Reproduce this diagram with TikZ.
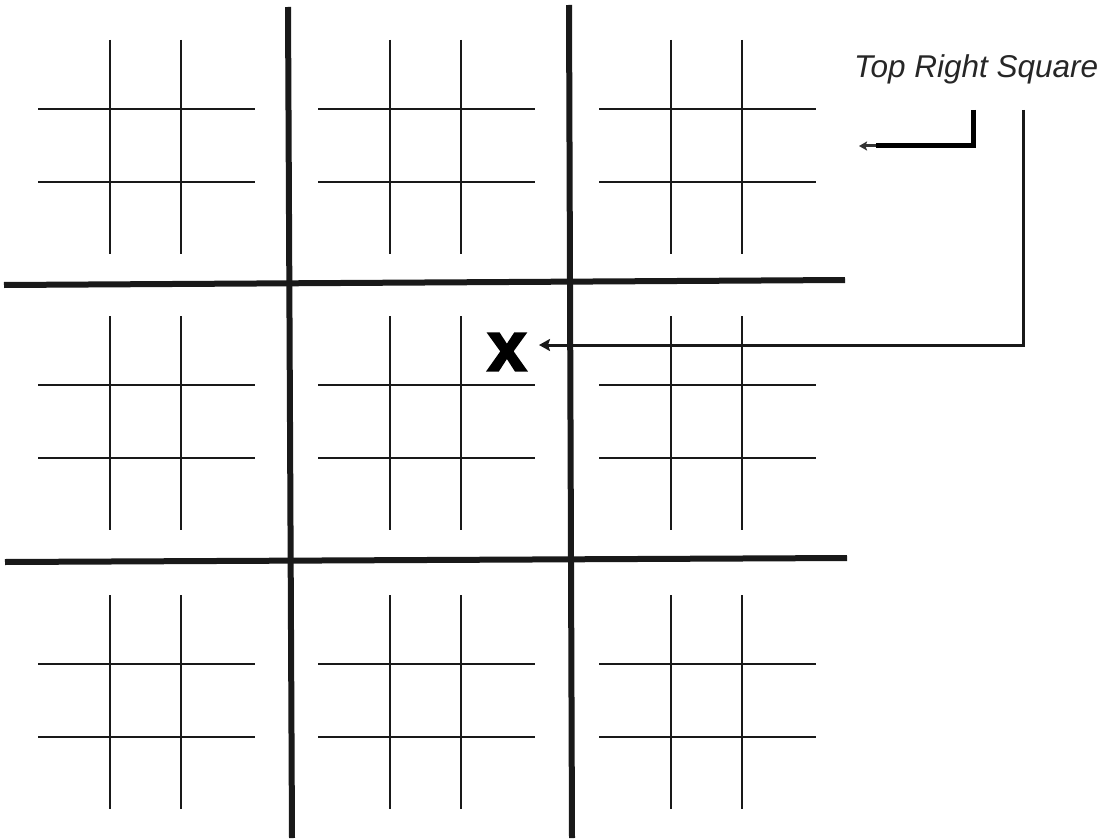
\documentclass[tikz,border=0pt]{standalone}
\usepackage{fontspec}
\setmainfont{Liberation Sans}
\font\heavyx="Liberation Sans/B:embolden=3" at 70pt
\usetikzlibrary{arrows.meta}
\tikzset{
  thin grid/.style={line width=2pt, black!90},
  thick grid/.style={line width=6pt, black!90},
  pointer/.style={line width=3pt, black!90, -{Stealth[length=11pt,width=12pt,inset=2pt]}},
  shortpointer/.style={line width=5pt, black},
  labeltext/.style={font=\fontsize{31.5}{36}\selectfont\itshape, text=black!85, inner sep=0pt, anchor=base west},
  marktext/.style={font=\heavyx, inner sep=0pt}
}
\begin{document}
\begin{tikzpicture}[x=1pt,y=-1pt]
\useasboundingbox (0,0) rectangle (1103,840);
\fill[white] (0,0) rectangle (1103,840);
% small grids
\foreach \dx in {0,280,561} {
  \foreach \dy in {0,276,555} {
    \draw[thin grid] (110+\dx,40+\dy) -- (110+\dx,254+\dy);
    \draw[thin grid] (181+\dx,40+\dy) -- (181+\dx,254+\dy);
    \draw[thin grid] (38+\dx,109+\dy) -- (255+\dx,109+\dy);
    \draw[thin grid] (38+\dx,182+\dy) -- (255+\dx,182+\dy);
  }
}
% thick lines
\draw[thick grid] (288,7) -- (292,838);
\draw[thick grid] (569,5) -- (572,838);
\draw[thick grid] (4,285) -- (845,280);
\draw[thick grid] (5,562) -- (847,558);
% label and mark
\node[labeltext] (label) at (854,78) {Top Right Square};
\node[marktext] (mark) at (507,352) {x};
% arrows
\coordinate (p1) at (1023,110);
\coordinate (p2) at (1023,345);
\coordinate (tipA) at (539,345);
\coordinate (q1) at (973,110);
\coordinate (q2) at (973,146);
\coordinate (q3) at (876,146);
\coordinate (q4) at (859,146);
\draw[pointer] (p1) -- (p2) -- (tipA);
\draw[shortpointer] (q1) -- (q2) -- (q3);
\draw[line width=3pt, black!80, -{Stealth[length=8pt,width=9pt,inset=1.5pt]}] (q3) -- (q4);
\end{tikzpicture}
\end{document}
